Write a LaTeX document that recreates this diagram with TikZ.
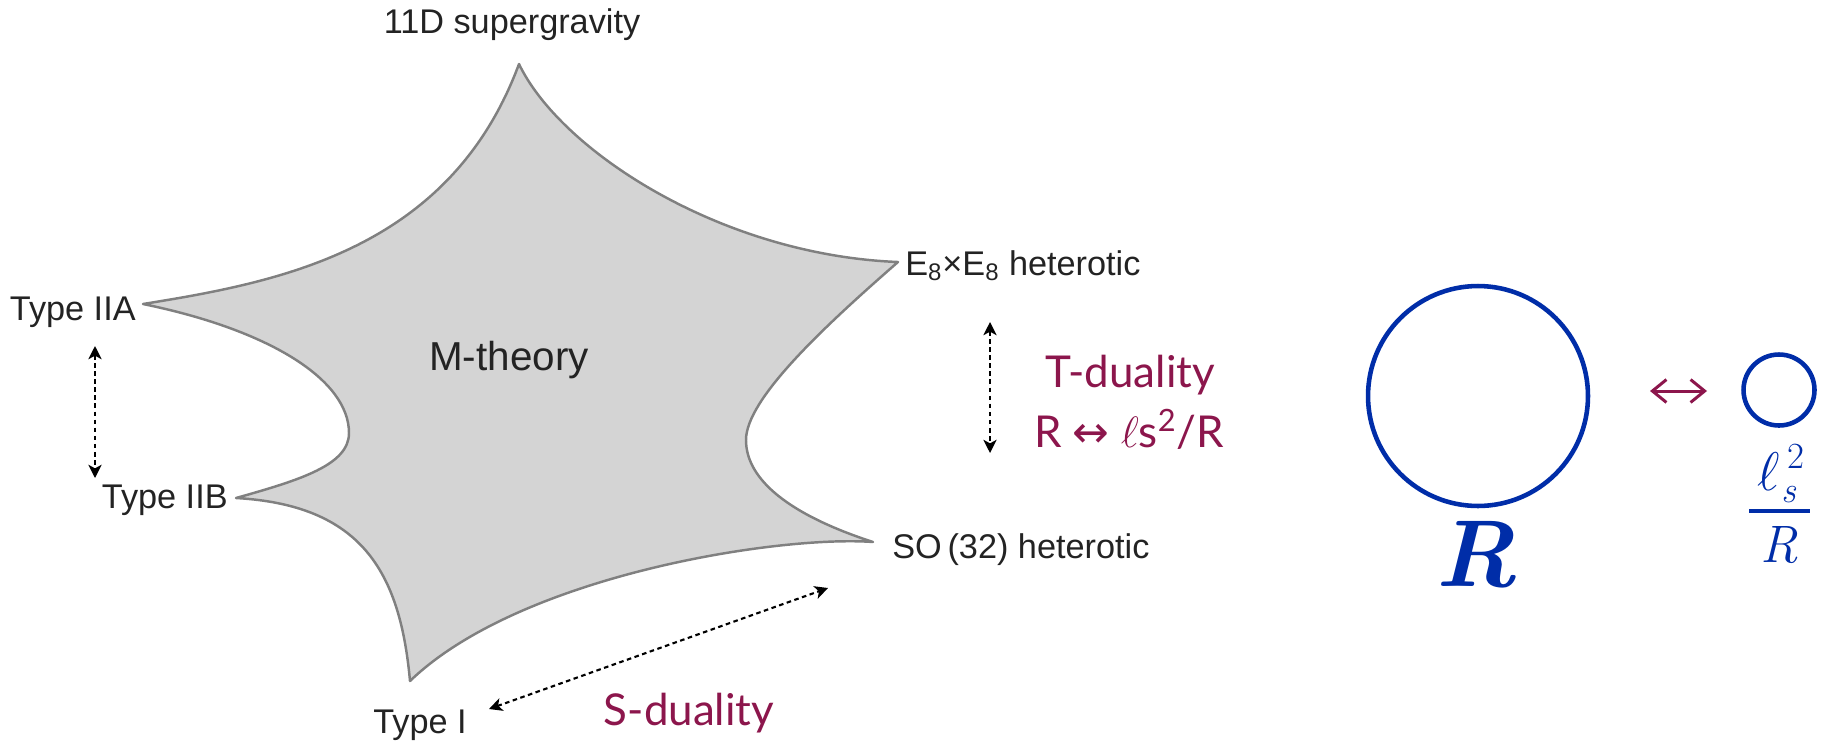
\RequirePackage{fix-cm}
\documentclass[tikz,border=0pt]{standalone}
\usepackage{fontspec}
\newfontfamily\lblfont{Liberation Sans}
\newfontfamily\gillfont{Lato}
\newfontfamily\arrowfont{DejaVu Sans}
\usetikzlibrary{arrows.meta}
\definecolor{starfill}{RGB}{212,212,212}
\definecolor{stardraw}{RGB}{128,128,128}
\definecolor{lbl}{RGB}{35,35,35}
\definecolor{maroon}{RGB}{140,22,76}
\definecolor{cblue}{RGB}{0,45,168}
\begin{document}
\begin{tikzpicture}[x=0.02cm,y=-0.02cm,
  lab/.style={font=\lblfont\fontsize{19.5}{23}\selectfont, text=lbl, inner sep=0pt},
  mlab/.style={font=\gillfont\fontsize{25}{30}\selectfont, text=maroon, inner sep=0pt},
  dual/.style={line width=1.2pt, dash pattern=on 2.6pt off 2pt,
    {Stealth[length=7.5pt,width=7.5pt,inset=2pt]}-{Stealth[length=7.5pt,width=7.5pt,inset=2pt]}},
  ring/.style={draw=cblue, line width=2.6pt, circle, inner sep=0pt},
  btext/.style={text=cblue, inner sep=0pt}]
\useasboundingbox (0,0) rectangle (1832,748);

% star (M-theory region)
\path[fill=starfill, draw=stardraw, line width=1.4pt, line join=round]
  (519,64) .. controls (560,150) and (720,255) .. (898,262)
  .. controls (820,330) and (746,400) .. (746,440)
  .. controls (746,480) and (790,515) .. (873,542)
  .. controls (780,535) and (520,575) .. (410,681)
  .. controls (400,570) and (360,505) .. (236,498)
  .. controls (300,480) and (349,465) .. (349,433)
  .. controls (349,380) and (270,330) .. (143,304)
  .. controls (280,282) and (450,250) .. cycle;

% labels
\node[lab, anchor=base] (sugra) at (512,33) {11D supergravity};
\node[lab, anchor=base east] (iia) at (136,320) {Type IIA};
\node[lab, anchor=base east] (iib) at (228,508) {Type IIB};
\node[lab, anchor=base west] (ti) at (373,733) {Type I};
\node[lab, anchor=base west] (e8) at (905,275) {E\textsubscript{8}×E\textsubscript{8} heterotic};
\node[lab, anchor=base west] (so) at (892,558) {SO\,(32) heterotic};
\node[font=\lblfont\fontsize{23}{28}\selectfont, text=lbl, inner sep=0pt, anchor=base] (m) at (509,370) {M-theory};

% duality arrows
\coordinate (a1) at (95,346);
\coordinate (a2) at (95,478);
\draw[dual] (a1) -- (a2);
\coordinate (t1) at (990,322);
\coordinate (t2) at (990,453);
\draw[dual] (t1) -- (t2);
\coordinate (s1) at (489,709);
\coordinate (s2) at (828,588);
\draw[dual] (s1) -- (s2);

% maroon texts
\node[mlab, anchor=base] (td) at (1130,387) {T-duality};
\node[mlab, anchor=base] (tr) at (1129,447) {R {\arrowfont ↔} $\ell$s\textsuperscript{2}/R};
\node[mlab, anchor=base] (sd) at (689,725) {S-duality};

% circles
\node[ring, minimum size=4.4cm] (big) at (1478,396) {};
\node[ring, minimum size=1.42cm] (small) at (1779,390) {};
\coordinate (l1) at (1650,391);
\coordinate (l2) at (1707,391);
\draw[draw=maroon, line width=1.7pt,
  {Straight Barb[length=8pt,width=13pt]}-{Straight Barb[length=8pt,width=13pt]}] (l1) -- (l2);
\node[btext, anchor=base, font=\rmfamily\fontsize{54}{60}\selectfont\bfseries\itshape] (rr) at (1476,586) {R};

% fraction l_s^2 / R
\node[btext, anchor=base, font=\rmfamily\fontsize{31}{33}\selectfont\itshape] (num) at (1781,490)
  {$\ell$\kern1pt\rlap{\fontsize{21}{22}\selectfont\raisebox{-7pt}{s}}\kern3.5pt\raisebox{12pt}{\fontsize{21}{22}\selectfont\upshape 2}};
\coordinate (barl) at (1749,511);
\coordinate (barr) at (1810,511);
\draw[cblue, line width=2.3pt] (barl) -- (barr);
\node[btext, anchor=base, font=\rmfamily\fontsize{30}{32}\selectfont\itshape] (den) at (1779,562) {R};
\end{tikzpicture}
\end{document}
